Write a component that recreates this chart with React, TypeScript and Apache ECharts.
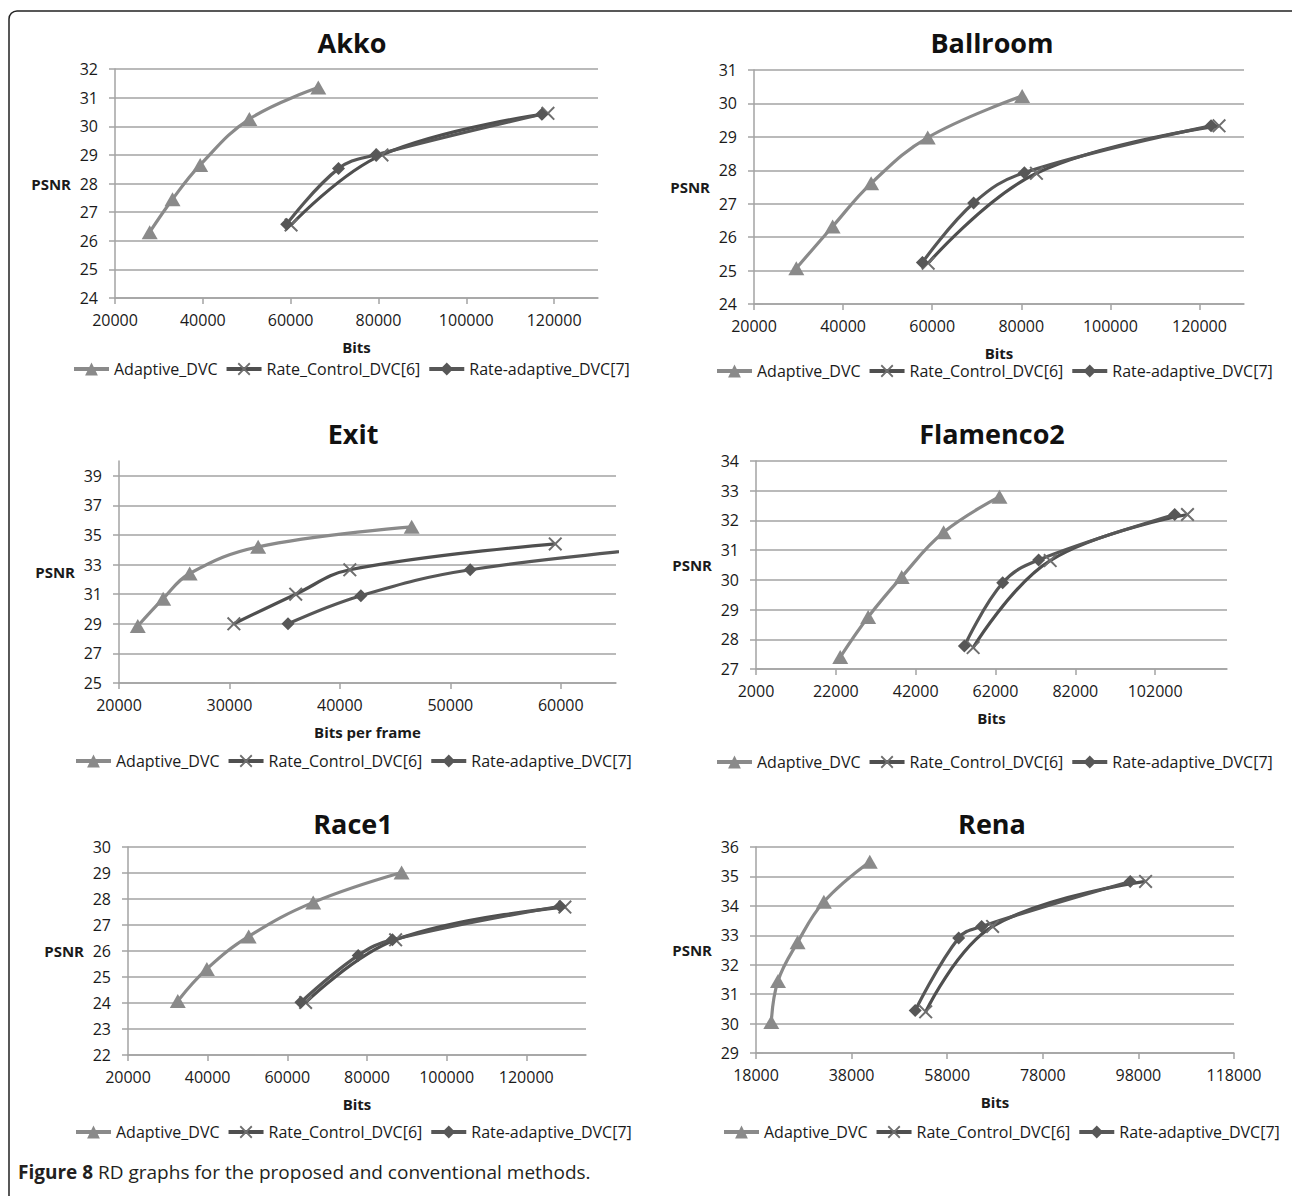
import React, { useEffect, useRef } from "react";
import * as echarts from "echarts";

// ---------- DATA ----------
const seriesNames = ["Adaptive_DVC", "Rate_Control_DVC[6]", "Rate-adaptive_DVC[7]"];
const panelTitles = ["Akko", "Ballroom", "Exit", "Flamenco2", "Race1", "Rena"];
const xAxisNames = ["Bits", "Bits", "Bits per frame", "Bits", "Bits", "Bits"];
const yAxisName = "PSNR";
const caption = "Figure 8";
const captionRest = " RD graphs for the proposed and conventional methods.";

// Akko
const akkoAdaptive = [[27900, 26.3], [33100, 27.45], [39400, 28.65], [50600, 30.25], [66300, 31.35]];
const akkoRateControl = [[60100, 26.55], [80800, 29.0], [118600, 30.45]];
const akkoRateAdaptive = [[59100, 26.58], [70900, 28.52], [79400, 29.0], [117200, 30.42]];
const akkoXTicks = [20000, 40000, 60000, 80000, 100000, 120000];
const akkoYTicks = [24, 25, 26, 27, 28, 29, 30, 31, 32];
// Ballroom
const ballroomAdaptive = [[29500, 25.07], [37650, 26.32], [46300, 27.61], [59000, 28.98], [80200, 30.22]];
const ballroomRateControl = [[59100, 25.22], [83400, 27.91], [124400, 29.33]];
const ballroomRateAdaptive = [[57800, 25.24], [69300, 27.02], [80700, 27.93], [122600, 29.33]];
const ballroomXTicks = [20000, 40000, 60000, 80000, 100000, 120000];
const ballroomYTicks = [24, 25, 26, 27, 28, 29, 30, 31];
// Exit
const exitAdaptive = [[21700, 28.85], [24000, 30.7], [26400, 32.4], [32600, 34.2], [46500, 35.55]];
const exitRateControl = [[30400, 29.0], [36000, 31.0], [40900, 32.65], [59500, 34.4]];
const exitRateAdaptive = [[35300, 29.0], [41900, 30.9], [51800, 32.65], [72000, 34.35]];
const exitXTicks = [20000, 30000, 40000, 50000, 60000];
const exitYTicks = [25, 27, 29, 31, 33, 35, 37, 39];
// Flamenco2
const flamencoAdaptive = [[23100, 27.4], [30100, 28.75], [38500, 30.1], [49000, 31.6], [63000, 32.8]];
const flamencoRateControl = [[56400, 27.72], [75700, 30.65], [110100, 32.2]];
const flamencoRateAdaptive = [[54200, 27.77], [63800, 29.9], [72800, 30.67], [106900, 32.2]];
const flamencoXTicks = [2000, 22000, 42000, 62000, 82000, 102000];
const flamencoYTicks = [27, 28, 29, 30, 31, 32, 33, 34];
// Race1
const raceAdaptive = [[32500, 24.08], [39800, 25.31], [50300, 26.56], [66500, 27.87], [88700, 29.02]];
const raceRateControl = [[64600, 24.02], [87200, 26.43], [129700, 27.69]];
const raceRateAdaptive = [[63400, 24.03], [77800, 25.83], [86400, 26.43], [128500, 27.72]];
const raceXTicks = [20000, 40000, 60000, 80000, 100000, 120000];
const raceYTicks = [22, 23, 24, 25, 26, 27, 28, 29, 30];
// Rena
const renaAdaptive = [[21200, 30.05], [22600, 31.45], [26700, 32.76], [32200, 34.14], [41800, 35.5]];
const renaRateControl = [[53500, 30.4], [67500, 33.3], [99500, 34.83]];
const renaRateAdaptive = [[51300, 30.44], [60400, 32.91], [65200, 33.3], [96300, 34.83]];
const renaXTicks = [18000, 38000, 58000, 78000, 98000, 118000];
const renaYTicks = [29, 30, 31, 32, 33, 34, 35, 36];

// axis ranges [xmin, xmax, ymin, ymax]
const akkoRange = [20000, 130000, 24, 32];
const ballroomRange = [20000, 130000, 24, 31];
const exitRange = [20000, 65000, 25, 40];
const flamencoRange = [2000, 120000, 27, 34];
const raceRange = [20000, 135000, 22, 30];
const renaRange = [18000, 118000, 29, 36];

// ---------- LAYOUT / STYLE ----------
const FONT = '"Open Sans", "DejaVu Sans", sans-serif';
const TEXT = "#1a1a1a";
const GRID = "#a3a3a3";
const C_ADAPT = "#8a8a8a";
const C_RC = "#4f4f4f";
const C_RC_MARK = "#6e6e6e";
const C_RA = "#575757";
const X_SYMBOL = "path://M1,0 L5,4 L9,0 L10,1 L6,5 L10,9 L9,10 L5,6 L1,10 L0,9 L4,5 L0,1 Z";

const panels = [
  { data: [akkoAdaptive, akkoRateControl, akkoRateAdaptive], xt: akkoXTicks, yt: akkoYTicks, r: akkoRange,
    grid: { left: 115, top: 69, width: 483, height: 229 }, title: [352, 42], legend: [72, 361] },
  { data: [ballroomAdaptive, ballroomRateControl, ballroomRateAdaptive], xt: ballroomXTicks, yt: ballroomYTicks, r: ballroomRange,
    grid: { left: 754, top: 70, width: 490, height: 234 }, title: [992, 42], legend: [715, 363] },
  { data: [exitAdaptive, exitRateControl, exitRateAdaptive], xt: exitXTicks, yt: exitYTicks, r: exitRange,
    grid: { left: 119, top: 461, width: 497, height: 222 }, title: [353, 433], legend: [74, 753] },
  { data: [flamencoAdaptive, flamencoRateControl, flamencoRateAdaptive], xt: flamencoXTicks, yt: flamencoYTicks, r: flamencoRange,
    grid: { left: 756, top: 461, width: 471, height: 208 }, title: [992, 433], legend: [715, 754] },
  { data: [raceAdaptive, raceRateControl, raceRateAdaptive], xt: raceXTicks, yt: raceYTicks, r: raceRange,
    grid: { left: 128, top: 847, width: 458, height: 208 }, title: [353, 823], legend: [74, 1124] },
  { data: [renaAdaptive, renaRateControl, renaRateAdaptive], xt: renaXTicks, yt: renaYTicks, r: renaRange,
    grid: { left: 756, top: 847, width: 478, height: 206 }, title: [992, 823], legend: [722, 1124] },
];

const plain = (v: number) => String(v);

function buildOption() {
  const grid: any[] = [];
  const xAxis: any[] = [];
  const yAxis: any[] = [];
  const series: any[] = [];
  const legend: any[] = [];
  const graphic: any[] = [];

  graphic.push({
    type: "rect",
    shape: { x: 9, y: 11, width: 1300, height: 1300, r: 8 },
    style: { fill: "none", stroke: "#222", lineWidth: 1.5 },
    silent: true,
  });
  graphic.push({
    type: "text",
    x: 18,
    y: 1172,
    style: {
      text: "{b|" + caption + "}" + captionRest,
      font: '19px "Open Sans", sans-serif',
      fill: "#231f20",
      textVerticalAlign: "middle",
      rich: { b: { fontWeight: "bold", fontSize: 19, fontFamily: FONT, fill: "#231f20" } },
    },
  });

  panels.forEach((p, i) => {
    grid.push({ ...p.grid, containLabel: false });
    const axisLineStyle = { color: GRID, width: 1.5 };
    xAxis.push({
      gridIndex: i,
      type: "value",
      min: p.r[0],
      max: p.r[1],
      name: xAxisNames[i],
      nameLocation: "middle",
      nameGap: 41,
      nameTextStyle: { fontFamily: FONT, fontSize: 15, fontWeight: "bold", color: TEXT },
      axisLine: { show: true, onZero: false, lineStyle: axisLineStyle },
      axisTick: { show: true, length: 6, lineStyle: axisLineStyle, customValues: p.xt },
      axisLabel: { customValues: p.xt, formatter: plain, fontFamily: FONT, fontSize: 16, color: TEXT, margin: 14 },
      splitLine: { show: false },
    });
    yAxis.push({
      gridIndex: i,
      type: "value",
      min: p.r[2],
      max: p.r[3],
      name: yAxisName,
      nameLocation: "middle",
      nameRotate: 0,
      nameGap: 44,
      nameTextStyle: { fontFamily: FONT, fontSize: 15, fontWeight: "bold", color: TEXT },
      axisLine: { show: true, lineStyle: axisLineStyle },
      axisTick: { show: true, length: 6, lineStyle: axisLineStyle, customValues: p.yt },
      axisLabel: { customValues: p.yt, formatter: plain, fontFamily: FONT, fontSize: 16, color: TEXT, margin: 17 },
      splitLine: { show: true, lineStyle: { color: GRID, width: 1.5 } },
    });
    series.push({
      name: seriesNames[0], type: "line", xAxisIndex: i, yAxisIndex: i,
      data: p.data[0], smooth: 0.4, symbol: "triangle", symbolSize: [16, 14],
      lineStyle: { color: C_ADAPT, width: 3.2 }, itemStyle: { color: C_ADAPT },
    });
    series.push({
      name: seriesNames[1], type: "line", xAxisIndex: i, yAxisIndex: i,
      data: p.data[1], smooth: 0.4, symbol: X_SYMBOL, symbolSize: 14,
      lineStyle: { color: C_RC, width: 3.2 }, itemStyle: { color: C_RC_MARK },
    });
    series.push({
      name: seriesNames[2], type: "line", xAxisIndex: i, yAxisIndex: i,
      data: p.data[2], smooth: 0.4, symbol: "diamond", symbolSize: 13,
      lineStyle: { color: C_RA, width: 3.2 }, itemStyle: { color: C_RA },
    });
    legend.push({
      left: p.legend[0], top: p.legend[1], width: 640, padding: 0,
      itemWidth: 35, itemHeight: 16, itemGap: 7,
      lineStyle: { width: 4 },
      textStyle: { fontFamily: FONT, fontSize: 16, color: TEXT },
      data: seriesNames,
    });
    graphic.push({
      type: "text",
      x: p.title[0],
      y: p.title[1],
      style: {
        text: panelTitles[i],
        font: 'bold 27px "Open Sans", sans-serif',
        fill: "#111",
        textAlign: "center",
        textVerticalAlign: "middle",
      },
    });
  });

  return { animation: false, backgroundColor: "#fff", grid, xAxis, yAxis, series, legend, graphic };
}

export default function App() {
  const ref = useRef<HTMLDivElement>(null);
  useEffect(() => {
    const chart = echarts.init(ref.current!, undefined, { renderer: "svg" });
    chart.setOption(buildOption());
    return () => chart.dispose();
  }, []);
  return (
    <div
      ref={ref}
      style={{ position: "absolute", left: 0, top: 0, width: 1292, height: 1196, background: "#fff" }}
    />
  );
}
